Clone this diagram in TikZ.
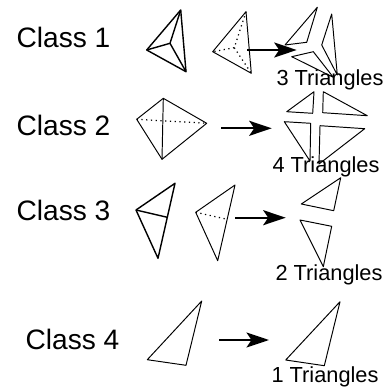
\documentclass[tikz,border=0pt]{standalone}
\usepackage{fontspec}
\setmainfont{Liberation Sans}
\usetikzlibrary{arrows.meta,positioning}
\tikzset{
  clsname/.style={font=\fontsize{16pt}{18pt}\selectfont, inner sep=0pt},
  cntname/.style={font=\fontsize{12.4pt}{14pt}\selectfont, inner sep=0pt},
  tri/.style={draw=black, line width=0.55pt, line join=round},
  trithick/.style={draw=black, line width=0.8pt, line join=round},
  hidden/.style={draw=black, line width=0.7pt, dotted},
  maparrow/.style={-{Stealth[length=0.45cm,width=0.3cm,inset=0.1cm]}, line width=1.3pt, draw=black}
}
\begin{document}
\begin{tikzpicture}[x=0.02cm,y=-0.02cm]
  \useasboundingbox (0,0) rectangle (389,391);
  % labels
  \node[clsname] (cA) at (63.5,37) {Class 1};
  \node[clsname] (cB) at (63.5,125) {Class 2};
  \node[clsname] (cC) at (63.5,210) {Class 3};
  \node[clsname] (cD) at (72.5,339) {Class 4};
  \node[cntname] (nA) at (330,79.5) {3 Triangles};
  \node[cntname] (nB) at (326,167) {4 Triangles};
  \node[cntname] (nC) at (329,274.5) {2 Triangles};
  \node[cntname] (nD) at (325,377) {1 Triangles};
  % class 1
  \draw[trithick] (180.7,10) -- (146.7,50) -- (186,71.7) -- cycle;
  \draw[trithick] (180.7,10) -- (170,43.3) -- (146.7,50) (170,43.3) -- (186,71.7);
  \draw[tri] (246,11.7) -- (212.7,51.7) -- (251.3,73.3) -- cycle;
  \draw[hidden] (246,11.7) -- (234.3,47.7) -- (212.7,51.7) (234.3,47.7) -- (251.3,73.3);
  \draw[tri] (317.3,7.3) -- (285,45) -- (306.7,42.3) -- cycle;
  \draw[tri] (331.7,14) -- (321.7,45) -- (337.3,75) -- cycle;
  \draw[tri] (291.7,56.7) -- (313.3,51.7) -- (333.3,77.3) -- cycle;
  % class 2
  \draw[tri] (163.3,98.3) -- (136.7,119.3) -- (162,159.3) -- (206.7,123.3) -- cycle;
  \draw[tri] (163.3,98.3) -- (162,159.3);
  \draw[hidden] (136.7,119.3) -- (206.7,123.3);
  \draw[tri] (314,91.7) -- (286.7,111.7) -- (312.7,113.3) -- cycle;
  \draw[tri] (323.3,91.7) -- (322.7,112.7) -- (367.3,115.7) -- cycle;
  \draw[tri] (284.3,121.7) -- (310.7,123.3) -- (310,161) -- cycle;
  \draw[tri] (320,125.7) -- (364.7,128.7) -- (319,164) -- cycle;
  % class 3
  \draw[trithick] (175,183.3) -- (136,210) -- (158,258.3) -- cycle;
  \draw[trithick] (136,210) -- (167.3,217.3);
  \draw[tri] (235,185) -- (195.7,212.3) -- (217.7,260.7) -- cycle;
  \draw[hidden] (195.7,212.3) -- (227.3,219.3);
  \draw[tri] (340.7,177.7) -- (301.3,204) -- (333.7,210.7) -- cycle;
  \draw[tri] (300,220) -- (331.7,226.3) -- (323.3,266.7) -- cycle;
  % class 4
  \draw[tri] (201.7,301) -- (147.3,359.7) -- (186,365.3) -- cycle;
  \draw[tri] (340,301.7) -- (285.7,360) -- (324.3,365.7) -- cycle;
  % arrows
  \coordinate (aA) at (247.3,50);
  \coordinate (bA) at (296.7,50);
  \coordinate (aB) at (221,128.3);
  \coordinate (bB) at (271.7,128.3);
  \coordinate (aC) at (235,217.7);
  \coordinate (bC) at (285.7,217.7);
  \coordinate (aD) at (219,340);
  \coordinate (bD) at (269,340);
  \draw[maparrow] (aA) -- (bA);
  \draw[maparrow] (aB) -- (bB);
  \draw[maparrow] (aC) -- (bC);
  \draw[maparrow] (aD) -- (bD);
\end{tikzpicture}
\end{document}
